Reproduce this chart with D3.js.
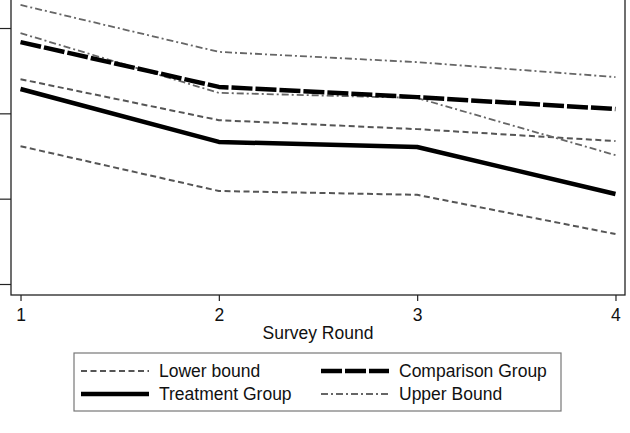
<!DOCTYPE html>
<html><head><meta charset="utf-8">
<script src="https://cdn.jsdelivr.net/npm/d3@7"></script>
<style>body{margin:0;background:#fff}svg{display:block}text{font-family:"Liberation Sans",Arial,sans-serif;fill:#111}</style>
</head><body>
<svg id="c" width="630" height="433"></svg>
<script>
const rounds = [1, 2, 3, 4];
const treatment = [0.657, 0.533, 0.521, 0.411];
const comparison = [0.767, 0.662, 0.638, 0.610];
const lowerT = [0.523, 0.418, 0.409, 0.317];
const upperT = [0.788, 0.648, 0.636, 0.502];
const lowerC = [0.680, 0.584, 0.563, 0.535];
const upperC = [0.854, 0.744, 0.720, 0.685];
const yTicks = [0.2, 0.4, 0.6, 0.8];
const xTicks = [1, 2, 3, 4];
const legendLabels = ["Lower bound", "Comparison Group", "Treatment Group", "Upper Bound"];

const svg = d3.select("#c");
const L = 11, R = 625, T = -10, B = 295;
const x = d3.scaleLinear().domain([0.952, 4.048]).range([L, R]);
const y = d3.scaleLinear().domain([0.2, 0.4]).range([284, 198.67]);

svg.append("rect").attr("x", L).attr("y", T).attr("width", R - L).attr("height", B - T)
  .attr("fill", "none").attr("stroke", "#222").attr("stroke-width", 1.3);

// y-axis: tick marks only (labels lie outside the visible picture in the reference)
const yAxis = svg.append("g").attr("transform", `translate(${L},0)`)
  .call(d3.axisLeft(y).tickValues(yTicks).tickSize(11).tickFormat(""));
yAxis.select(".domain").remove();
yAxis.selectAll("line").attr("stroke", "#222").attr("stroke-width", 1.2);

const xAxis = svg.append("g").attr("transform", `translate(0,${B})`)
  .call(d3.axisBottom(x).tickValues(xTicks).tickSize(6).tickPadding(8).tickFormat(d3.format("d")));
xAxis.select(".domain").remove();
xAxis.selectAll("line").attr("stroke", "#222").attr("stroke-width", 1.2);
xAxis.selectAll("text").style("font-size", "17.5px").attr("fill", "#111");

svg.append("text").attr("x", 318).attr("y", 339).attr("text-anchor", "middle")
  .style("font-size", "17.5px").text("Survey Round");

const line = d3.line().x((d, i) => x(rounds[i])).y(d => y(d));
const styles = {
  lower: {stroke: "#555", w: 2, dash: "6,3.5"},
  upper: {stroke: "#666", w: 1.8, dash: "7,3,2,3"},
  comp: {stroke: "#000", w: 4.5, dash: "21,3"},
  treat: {stroke: "#000", w: 4.5, dash: null}
};
const series = [
  [lowerT, "lower"], [lowerC, "lower"], [upperT, "upper"], [upperC, "upper"],
  [comparison, "comp"], [treatment, "treat"]
];
series.forEach(([data, k]) => {
  const s = styles[k];
  svg.append("path").datum(data).attr("d", line).attr("fill", "none")
    .attr("stroke", s.stroke).attr("stroke-width", s.w)
    .attr("stroke-dasharray", s.dash).attr("stroke-linejoin", "round");
});

// Legend
svg.append("rect").attr("x", 74).attr("y", 353).attr("width", 487).attr("height", 58)
  .attr("fill", "none").attr("stroke", "#777").attr("stroke-width", 1.2);
const leg = [
  {k: "lower", x: 81, y: 371, label: legendLabels[0]},
  {k: "comp", x: 321, y: 371, label: legendLabels[1]},
  {k: "treat", x: 81, y: 394, label: legendLabels[2]},
  {k: "upper", x: 321, y: 394, label: legendLabels[3]}
];
leg.forEach(d => {
  const s = styles[d.k];
  svg.append("line").attr("x1", d.x).attr("x2", d.x + 68).attr("y1", d.y).attr("y2", d.y)
    .attr("stroke", s.stroke).attr("stroke-width", s.w).attr("stroke-dasharray", s.dash);
  svg.append("text").attr("x", d.x + 78).attr("y", d.y + 6).style("font-size", "17.5px").text(d.label);
});
</script>
</body></html>
